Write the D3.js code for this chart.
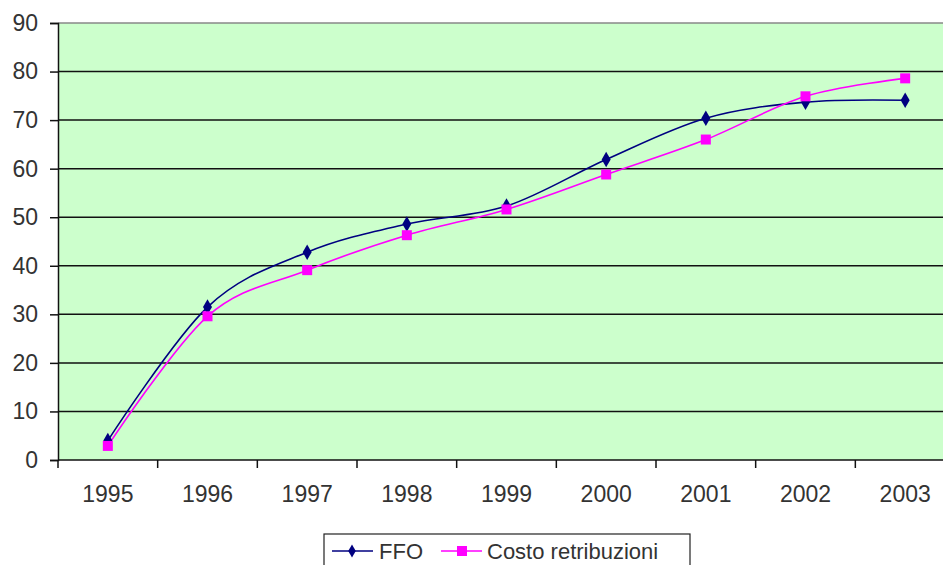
<!DOCTYPE html>
<html>
<head>
<meta charset="utf-8">
<script src="https://cdn.jsdelivr.net/npm/d3@7"></script>
<style>
  html, body { margin: 0; padding: 0; background: #fff; }
  svg { display: block; }
  text { font-family: "Liberation Sans", Arial, sans-serif; fill: #333; }
</style>
</head>
<body>
<svg id="chart" width="943" height="565"></svg>
<script>
const years = ["1995","1996","1997","1998","1999","2000","2001","2002","2003"];
const ffo = [4.0, 31.5, 42.8, 48.6, 52.3, 61.9, 70.4, 73.7, 74.1];
const costo = [2.9, 29.6, 39.1, 46.3, 51.6, 58.8, 66.0, 74.9, 78.6];
const yTicks = [0, 10, 20, 30, 40, 50, 60, 70, 80, 90];
const seriesNames = ["FFO", "Costo retribuzioni"];

(function () {
const svg = d3.select("#chart");
const pLeft = 58, pTop = 23, pBottom = 460, pRight = 955;

const x = d3.scaleBand().domain(years).range([pLeft, pRight]);
const y = d3.scaleLinear().domain([0, 90]).range([pBottom, pTop]);

// plot background
svg.append("rect").attr("x", pLeft).attr("y", pTop)
  .attr("width", pRight - pLeft).attr("height", pBottom - pTop)
  .attr("fill", "#ccffcc");

// gridlines
svg.append("g").selectAll("line").data(yTicks.filter(d => d > 0)).join("line")
  .attr("x1", pLeft).attr("x2", pRight)
  .attr("y1", d => y(d)).attr("y2", d => y(d))
  .attr("stroke", d => d === 90 ? "#888" : "#111")
  .attr("stroke-width", 1.5);

// y axis
const yAxis = d3.axisLeft(y).tickValues(yTicks).tickSize(8).tickPadding(12);
const gy = svg.append("g").attr("transform", `translate(${pLeft},0)`).call(yAxis);
gy.select(".domain").attr("stroke", "#111").attr("stroke-width", 1.5);
gy.selectAll(".tick line").attr("stroke", "#111").attr("stroke-width", 1.5);
gy.selectAll(".tick text").style("font-size", "23px").attr("fill", "#333")
  .style("font-family", "'Liberation Sans', Arial, sans-serif");

// x axis with ticks between categories
const xAxis = d3.axisBottom(x).tickSize(0).tickPadding(26);
const gx = svg.append("g").attr("transform", `translate(0,${pBottom})`).call(xAxis);
gx.select(".domain").remove();
gx.selectAll(".tick text").style("font-size", "23px").attr("fill", "#333")
  .style("font-family", "'Liberation Sans', Arial, sans-serif");
svg.append("line").attr("x1", pLeft).attr("x2", pRight)
  .attr("y1", pBottom).attr("y2", pBottom).attr("stroke", "#111").attr("stroke-width", 1.5);
svg.append("g").selectAll("line").data(years).join("line")
  .attr("x1", d => x(d)).attr("x2", d => x(d))
  .attr("y1", pBottom).attr("y2", pBottom + 8)
  .attr("stroke", "#111").attr("stroke-width", 1.5);

const cx = d => x(d) + x.bandwidth() / 2;
const line = d3.line().curve(d3.curveCatmullRom.alpha(0))
  .x((d, i) => cx(years[i])).y(d => y(d));

// FFO
svg.append("path").datum(ffo).attr("d", line)
  .attr("fill", "none").attr("stroke", "#000080").attr("stroke-width", 1.6);
// Costo
svg.append("path").datum(costo).attr("d", line)
  .attr("fill", "none").attr("stroke", "#ff00ff").attr("stroke-width", 1.6);

const diamond = d3.symbol().type(d3.symbolDiamond).size(70);
svg.append("g").selectAll("path").data(ffo).join("path")
  .attr("d", diamond)
  .attr("transform", (d, i) => `translate(${cx(years[i])},${y(d)})`)
  .attr("fill", "#000080");
svg.append("g").selectAll("rect").data(costo).join("rect")
  .attr("x", (d, i) => cx(years[i]) - 5).attr("y", d => y(d) - 5)
  .attr("width", 10).attr("height", 10).attr("fill", "#ff00ff");

// legend
const lg = svg.append("g");
lg.append("rect").attr("x", 324).attr("y", 534).attr("width", 366).attr("height", 40)
  .attr("fill", "#fff").attr("stroke", "#222").attr("stroke-width", 1.2);
const legendItems = [
  { name: seriesNames[0], color: "#000080", lx: 332, tx: 379, marker: "diamond" },
  { name: seriesNames[1], color: "#ff00ff", lx: 441, tx: 487, marker: "square" }
];
legendItems.forEach(it => {
  const ly = 551;
  lg.append("line").attr("x1", it.lx).attr("x2", it.lx + 41)
    .attr("y1", ly).attr("y2", ly).attr("stroke", it.color).attr("stroke-width", 1.6);
  if (it.marker === "diamond") {
    lg.append("path").attr("d", d3.symbol().type(d3.symbolDiamond).size(50)())
      .attr("transform", `translate(${it.lx + 20},${ly})`).attr("fill", it.color);
  } else {
    lg.append("rect").attr("x", it.lx + 16).attr("y", ly - 5).attr("width", 10).attr("height", 10)
      .attr("fill", it.color);
  }
  lg.append("text").attr("x", it.tx).attr("y", ly + 8).text(it.name)
    .style("font-size", "22px");
});
})();
</script>
</body>
</html>
